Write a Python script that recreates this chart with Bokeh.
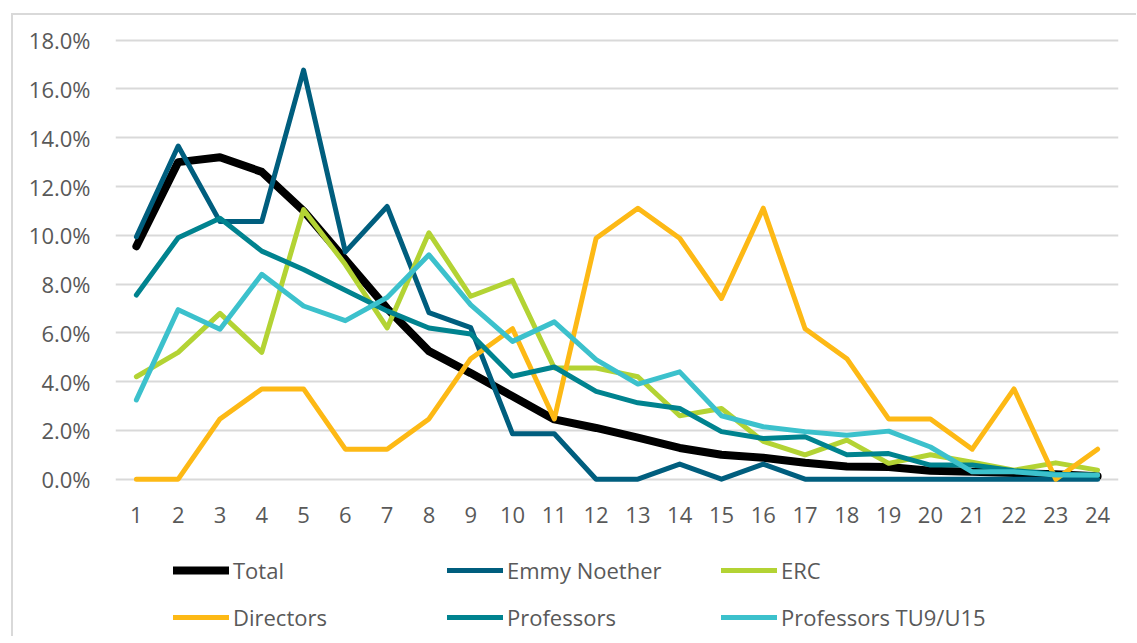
from bokeh.plotting import figure
from bokeh.models import FactorRange, Range1d, FixedTicker, Legend, LegendItem
from bokeh.layouts import column
from bokeh.embed import file_html
from bokeh.resources import INLINE

categories = ["1", "2", "3", "4", "5", "6", "7", "8", "9", "10", "11", "12",
              "13", "14", "15", "16", "17", "18", "19", "20", "21", "22", "23", "24"]

total = [9.55, 13.0, 13.2, 12.6, 11.0, 9.0, 7.0, 5.25, 4.35, 3.4, 2.45, 2.1,
         1.7, 1.28, 1.0, 0.88, 0.67, 0.52, 0.5, 0.35, 0.3, 0.25, 0.2, 0.12]
emmy_noether = [9.94, 13.66, 10.56, 10.56, 16.77, 9.32, 11.18, 6.83, 6.21, 1.86, 1.86, 0.0,
                0.0, 0.62, 0.0, 0.62, 0.0, 0.0, 0.0, 0.0, 0.0, 0.0, 0.0, 0.0]
erc = [4.2, 5.2, 6.8, 5.2, 11.05, 8.8, 6.2, 10.1, 7.5, 8.15, 4.56, 4.56,
       4.2, 2.6, 2.9, 1.55, 1.0, 1.6, 0.65, 1.0, 0.7, 0.37, 0.67, 0.37]
directors = [0.0, 0.0, 2.47, 3.7, 3.7, 1.23, 1.23, 2.47, 4.94, 6.17, 2.47, 9.88,
             11.11, 9.88, 7.41, 11.11, 6.17, 4.94, 2.47, 2.47, 1.23, 3.7, 0.0, 1.23]
professors = [7.55, 9.9, 10.7, 9.35, 8.6, 7.75, 6.9, 6.2, 5.95, 4.22, 4.6, 3.6,
              3.13, 2.9, 1.95, 1.67, 1.74, 1.0, 1.05, 0.58, 0.58, 0.35, 0.2, 0.15]
professors_tu9 = [3.25, 6.95, 6.15, 8.4, 7.1, 6.5, 7.45, 9.2, 7.15, 5.65, 6.45, 4.9,
                  3.9, 4.4, 2.6, 2.15, 1.95, 1.8, 1.97, 1.32, 0.3, 0.3, 0.17, 0.17]

series_names = ["Total", "Emmy Noether", "ERC", "Directors", "Professors", "Professors TU9/U15"]
series_values = [total, emmy_noether, erc, directors, professors, professors_tu9]
series_colors = ["#000000", "#005E7E", "#B3D334", "#FDB915", "#00838F", "#3CC1CC"]
series_widths = [8, 5, 5, 5, 5, 5]

y_ticks = [0, 2, 4, 6, 8, 10, 12, 14, 16, 18]
y_tick_labels = ["0.0%", "2.0%", "4.0%", "6.0%", "8.0%", "10.0%", "12.0%", "14.0%", "16.0%", "18.0%"]

FONT = "Open Sans"
TXT = "#595959"
BORDER = "2px solid #D9D9D9"

# ---- main chart ----
p = figure(
    x_range=FactorRange(*categories, range_padding=0),
    y_range=Range1d(-0.3, 18.15),
    frame_width=1001, frame_height=448,
    min_border_left=102, min_border_right=20, min_border_top=21, min_border_bottom=57,
    output_backend="svg", toolbar_location=None,
)
p.margin = (13, 0, 0, 11)
p.styles = {"border-top": BORDER, "border-left": BORDER}
p.outline_line_color = None
p.background_fill_color = "white"
p.border_fill_color = "white"

p.xgrid.grid_line_color = None
p.ygrid.grid_line_color = "#D9D9D9"
p.ygrid.grid_line_width = 2
p.yaxis.ticker = FixedTicker(ticks=y_ticks)
p.yaxis.major_label_overrides = {t: l for t, l in zip(y_ticks, y_tick_labels)}

for ax in (p.xaxis, p.yaxis):
    ax.axis_line_color = None
    ax.major_tick_line_color = None
    ax.minor_tick_line_color = None
    ax.major_tick_out = 0
    ax.major_tick_in = 0
    ax.major_label_text_font = FONT
    ax.major_label_text_font_size = "22px"
    ax.major_label_text_color = TXT
p.yaxis.major_label_standoff = 25
p.xaxis.major_label_standoff = 20

for vals, color, lw in zip(series_values, series_colors, series_widths):
    p.line(x=categories, y=vals, line_color=color, line_width=lw,
           line_cap="round", line_join="round")

# ---- legend strip (same series, plotted outside its visible y range) ----
lp = figure(
    x_range=FactorRange(*categories, range_padding=0),
    y_range=Range1d(1000, 1001),
    frame_width=1100, frame_height=95,
    min_border_left=0, min_border_right=0, min_border_top=0, min_border_bottom=0,
    x_axis_location=None, y_axis_location=None,
    output_backend="svg", toolbar_location=None,
)
lp.margin = (0, 0, 0, 11)
lp.styles = {"border-left": BORDER}
lp.outline_line_color = None
lp.grid.visible = False
lp.background_fill_color = "white"
lp.border_fill_color = "white"

leg_renderers = {}
for name, vals, color, lw in zip(series_names, series_values, series_colors, series_widths):
    leg_renderers[name] = lp.line(x=categories, y=vals, line_color=color, line_width=lw,
                                  line_cap="round", line_join="round")

leg = Legend(
    items=[LegendItem(label=n, renderers=[leg_renderers[n]]) for n in series_names],
    location=(160, 4), orientation="horizontal", ncols=3,
    glyph_width=56, glyph_height=20, label_standoff=4, spacing=17,
    label_width=197, label_height=30,
    padding=0, margin=0, border_line_color=None, background_fill_alpha=0,
    label_text_font=FONT, label_text_font_size="22px", label_text_color=TXT,
)
lp.add_layout(leg, "center")

layout = column(p, lp)
open("out.html", "w").write(file_html(layout, INLINE))
